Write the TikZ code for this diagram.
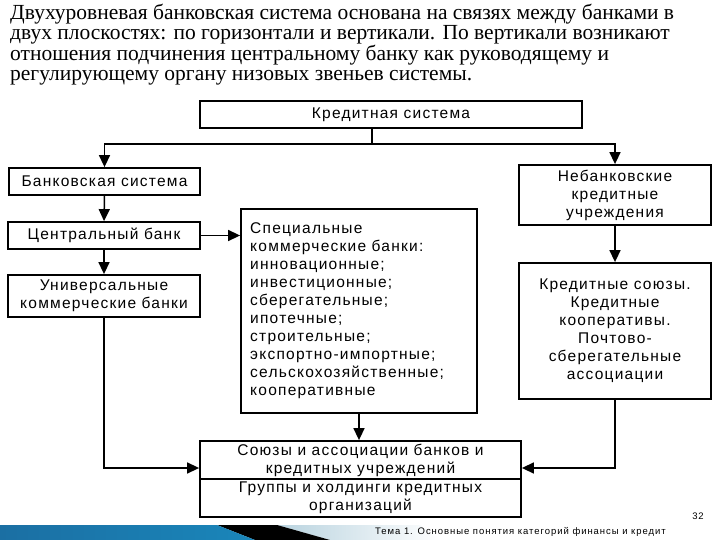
\documentclass[tikz,border=0pt]{standalone}
\usepackage{fontspec}
\setmainfont{Liberation Serif}
\newfontfamily\boxfont[LetterSpace=8]{Liberation Sans}
\newfontfamily\footfont[LetterSpace=10]{Liberation Sans}
\usetikzlibrary{arrows.meta}
\definecolor{bandL}{HTML}{1B6FA3}
\definecolor{bandM}{HTML}{4DB6DF}
\definecolor{bandR}{HTML}{1A86BA}
\definecolor{fadeA}{HTML}{B9D3DF}
\begin{document}
\begin{tikzpicture}[x=1pt,y=-1pt,
  box/.style={draw=black, line width=1.8pt, inner sep=0pt, align=center,
    font=\boxfont\fontsize{15.5}{18}\selectfont},
  conn/.style={line width=1.5pt, -{Triangle[length=12pt,width=11pt]}},
  plain/.style={line width=1.5pt}]
\useasboundingbox (0,0) rectangle (720,540);
\fill[white] (0,0) rectangle (720,540);
% title
\node[anchor=north west, align=left, inner sep=0pt,
  font=\fontsize{21.5}{20}\selectfont] (title) at (10,4)
  {Двухуровневая банковская система основана на связях между банками в\\
   двух плоскостях: по горизонтали и вертикали. По вертикали возникают\\
   отношения подчинения центральному банку как руководящему и\\
   регулирующему органу низовых звеньев системы.};
% boxes
\node[box, minimum width=382pt, minimum height=27pt] (kred) at (391,114.5) {Кредитная система};
\node[box, minimum width=191pt, minimum height=27pt] (bs) at (104.5,181.5) {Банковская система};
\node[box, minimum width=192pt, minimum height=27pt] (cb) at (104,235.5) {Центральный банк};
\node[box, minimum width=192pt, minimum height=42pt] (ub) at (104,296) {Универсальные\\коммерческие банки};
\node[box, minimum width=236pt, minimum height=204pt] (sp) at (359,311) {};
\node[anchor=north west, align=left, inner sep=0pt,
  font=\boxfont\fontsize{15.5}{18}\selectfont] (sptext) at (250,222)
  {Специальные\\коммерческие банки:\\инновационные;\\инвестиционные;\\сберегательные;\\ипотечные;\\строительные;\\экспортно-импортные;\\сельскохозяйственные;\\кооперативные};
\node[box, minimum width=192pt, minimum height=60pt] (nb) at (615,195) {Небанковские\\кредитные\\учреждения};
\node[box, minimum width=192pt, minimum height=136pt] (ks) at (615,331)
  {Кредитные союзы.\\Кредитные\\кооперативы.\\Почтово-\\сберегательные\\ассоциации};
\node[box, minimum width=321pt, minimum height=38pt] (sa) at (360.5,460) {Союзы и ассоциации банков и\\кредитных учреждений};
\node[box, minimum width=321pt, minimum height=38pt] (gh) at (360.5,498) {Группы и холдинги кредитных\\организаций};
% connectors
\coordinate (split) at (372,144);
\draw[plain] (kred.south -| split) -- (split);
\draw[conn] (split) -| (bs.north);
\draw[conn] (split) -| (nb.north);
\draw[conn] (bs.south) -- (cb.north);
\draw[conn] (cb.east) -- (cb.east -| sp.west);
\draw[conn] (cb.south) -- (ub.north);
\draw[conn] (ub.south) |- ([yshift=-8pt]sa.west);
\draw[conn] (nb.south) -- (ks.north);
\draw[conn] (ks.south) |- ([yshift=-8pt]sa.east);
\draw[conn] (sp.south) -- (sp.south |- sa.north);
% footer decoration
\shade[left color=fadeA, right color=white] (277,525) -- (420,525) -- (440,540) -- (330,540) -- cycle;
\fill[black] (217,525) -- (277,525) -- (330,540) -- (255,540) -- cycle;
\shade[left color=bandL, middle color=bandM, right color=bandR] (0,525) -- (217,525) -- (255,540) -- (0,540) -- cycle;
\node[font=\footfont\fontsize{9.5}{10}\selectfont, anchor=west, inner sep=0pt] (foot) at (375,532) {Тема 1. Основные понятия категорий финансы и кредит};
\node[font=\footfont\fontsize{9.5}{10}\selectfont, inner sep=0pt] (page) at (698,516) {32};
\end{tikzpicture}
\end{document}
